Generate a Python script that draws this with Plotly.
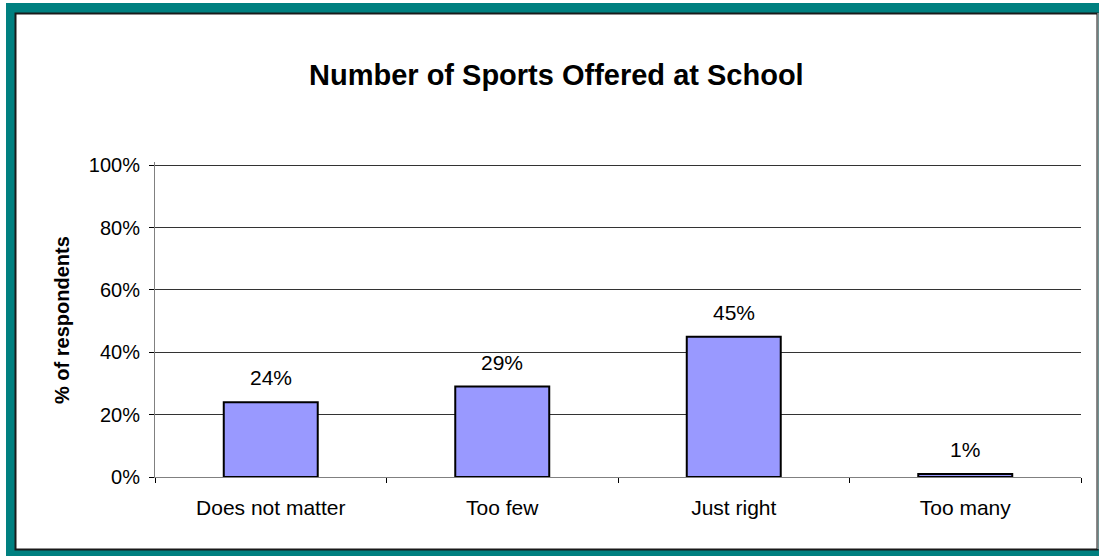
import plotly.graph_objects as go

# Survey results
categories = ["Does not matter", "Too few", "Just right", "Too many"]
shares = [0.24, 0.29, 0.45, 0.01]
y_tick_values = [0, 0.2, 0.4, 0.6, 0.8, 1.0]
y_tick_labels = ["0%", "20%", "40%", "60%", "80%", "100%"]

chart_title = "Number of Sports Offered at School"
y_title = "% of respondents"

# Canvas and plot-area geometry (pixels); the value axis runs a little past
# 100% so that the top gridline is not clipped at the plot edge
W, H = 1099, 556
L, R, T, B = 155, 18, 162, 79
PW = W - L - R
PH = H - T - B
Y_MAX = 1.01

FONT = "Arial, Liberation Sans, sans-serif"


def px(x):
    """Pixel x -> paper coordinate."""
    return (x - L) / PW


def py(y):
    """Pixel y (from top) -> paper coordinate."""
    return (H - B - y) / PH


fig = go.Figure()

fig.add_trace(go.Bar(
    x=categories,
    y=shares,
    marker=dict(color="#9999FF", line=dict(color="#000000", width=2)),
    hoverinfo="skip",
))

# Value labels above each bar
for cat, val in zip(categories, shares):
    fig.add_annotation(
        x=cat, y=val, xref="x", yref="y",
        text=f"{round(val * 100)}%",
        showarrow=False, yanchor="bottom", yshift=11,
        font=dict(family=FONT, size=21, color="#000000"),
    )

# Chart title
fig.add_annotation(
    x=px(556), y=py(75), xref="paper", yref="paper",
    text=chart_title, showarrow=False,
    xanchor="center", yanchor="middle",
    font=dict(family=FONT, size=29, color="#000000", weight="bold"),
)

# Vertical axis title
fig.add_annotation(
    x=px(62), y=py(320), xref="paper", yref="paper",
    text=y_title, showarrow=False, textangle=-90,
    xanchor="center", yanchor="middle",
    font=dict(family=FONT, size=20, color="#000000", weight="bold"),
)

# Frame: teal border with a dark inner edge around the white chart area
fig.add_shape(type="rect", xref="paper", yref="paper",
              x0=px(6), x1=px(1120), y0=py(3), y1=py(570),
              fillcolor="#008080", line=dict(width=0), layer="below")
fig.add_shape(type="rect", xref="paper", yref="paper",
              x0=px(15.5), x1=px(1097.5), y0=py(13.5), y1=py(549.5),
              fillcolor="#FFFFFF", line=dict(color="#1a1a1a", width=2), layer="below")
fig.add_shape(type="line", xref="paper", yref="paper",
              x0=px(1098), x1=px(1098), y0=py(13), y1=py(549),
              line=dict(color="#d8d8d8", width=1), layer="below")

fig.update_layout(
    width=W, height=H,
    margin=dict(l=L, r=R, t=T, b=B),
    paper_bgcolor="#FFFFFF",
    plot_bgcolor="rgba(0,0,0,0)",
    showlegend=False,
    bargap=0.594,
    font=dict(family=FONT, size=20, color="#000000"),
)

fig.update_xaxes(
    type="category",
    range=[-0.5, 3.5],
    showgrid=False,
    showline=True, linecolor="#808080", linewidth=1,
    ticks="outside", tickson="boundaries", ticklen=5, tickcolor="#000000",
    tickfont=dict(family=FONT, size=21, color="#000000"),
    ticklabelstandoff=12,
    fixedrange=True,
)

fig.update_yaxes(
    range=[0, Y_MAX],
    tickvals=y_tick_values,
    ticktext=y_tick_labels,
    showgrid=True, gridcolor="#333333", gridwidth=1,
    zeroline=False,
    showline=True, linecolor="#808080", linewidth=1,
    ticks="outside", ticklen=5, tickcolor="#000000",
    tickfont=dict(family=FONT, size=20, color="#000000"),
    ticklabelstandoff=5,
    fixedrange=True,
)

fig.write_html("out.html", config={"displayModeBar": False})
